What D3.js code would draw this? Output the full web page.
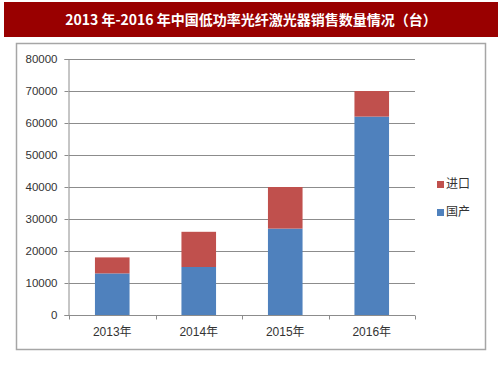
<!DOCTYPE html>
<html>
<head>
<meta charset="utf-8">
<script src="https://cdn.jsdelivr.net/npm/d3@7"></script>
<style>
  body { margin: 0; background: #fff; }
  svg { display: block; }
</style>
</head>
<body>
<div id="vis"></div>
<script>
// data
var years = ["2013年", "2014年", "2015年", "2016年"];
var domestic = [13000, 15000, 27000, 62000];   // 国产
var imported = [5000, 11000, 13000, 8000];     // 进口
var yTicks = [0, 10000, 20000, 30000, 40000, 50000, 60000, 70000, 80000];
var seriesNames = ["国产", "进口"];
var seriesColors = ["#4f81bd", "#c0504d"];

var W = 503, H = 378;
var svg = d3.select("#vis").append("svg")
    .attr("width", W)
    .attr("height", H);

// title banner
svg.append("rect")
    .attr("x", 4).attr("y", 2)
    .attr("width", 494).attr("height", 35)
    .attr("fill", "#990000");
svg.append("text")
    .attr("x", 251).attr("y", 20)
    .attr("dy", "0.35em")
    .attr("text-anchor", "middle")
    .attr("fill", "#fff")
    .style("font-family", "'Noto Sans CJK SC', 'DejaVu Serif', serif")
    .style("font-weight", "bold")
    .style("font-size", "14px")
    .text("2013 年-2016 年中国低功率光纤激光器销售数量情况（台）");

// chart frame
svg.append("rect")
    .attr("x", 16.5).attr("y", 43.5)
    .attr("width", 469).attr("height", 306)
    .attr("fill", "#fff")
    .attr("stroke", "#a6a6a6")
    .attr("stroke-width", 1.5);

var x = d3.scaleBand().domain(years).range([69, 415]).paddingInner(0.6).paddingOuter(0.3);
var y = d3.scaleLinear().domain([0, 80000]).range([315, 59]);

var fontStack = "'Liberation Sans', Arial, 'Noto Sans CJK SC', sans-serif";

// gridlines
svg.append("g")
  .selectAll("line")
  .data(yTicks.slice(1))
  .join("line")
    .attr("x1", 69).attr("x2", 415)
    .attr("y1", function(d) { return Math.round(y(d)) + 0.5; })
    .attr("y2", function(d) { return Math.round(y(d)) + 0.5; })
    .attr("stroke", "#8c8c8c")
    .attr("stroke-width", 1);

// stacked bars
var rows = years.map(function(yr, i) { return {year: yr, "国产": domestic[i], "进口": imported[i]}; });
var stack = d3.stack().keys(seriesNames)(rows);

svg.append("g")
  .selectAll("g")
  .data(stack)
  .join("g")
    .attr("fill", function(d, i) { return seriesColors[i]; })
  .selectAll("rect")
  .data(function(d) { return d; })
  .join("rect")
    .attr("x", function(d) { return x(d.data.year); })
    .attr("y", function(d) { return y(d[1]); })
    .attr("width", x.bandwidth())
    .attr("height", function(d) { return y(d[0]) - y(d[1]); });

// Y axis
var yAxis = svg.append("g")
    .attr("transform", "translate(68.5,0)")
    .call(d3.axisLeft(y).tickValues(yTicks).tickSize(4).tickPadding(7).tickFormat(d3.format("d")));
yAxis.select(".domain").attr("stroke", "#8c8c8c");
yAxis.selectAll(".tick line").attr("stroke", "#8c8c8c");
yAxis.selectAll("text")
    .attr("fill", "#333")
    .style("font-family", fontStack)
    .style("font-size", "11.5px");

// X axis
var xAxis = svg.append("g")
    .attr("transform", "translate(0,315.5)")
    .call(d3.axisBottom(x).tickSize(0).tickPadding(12));
xAxis.select(".domain").attr("d", "M69,0H415").attr("stroke", "#8c8c8c");
xAxis.selectAll("text")
    .attr("fill", "#333")
    .style("font-family", fontStack)
    .style("font-size", "12px");
// category boundary ticks
var bounds = d3.range(years.length + 1).map(function(i) { return 69 + i * x.step(); });
xAxis.selectAll(".bound")
  .data(bounds)
  .join("line")
    .attr("class", "bound")
    .attr("x1", function(d) { return Math.round(d) + 0.5; })
    .attr("x2", function(d) { return Math.round(d) + 0.5; })
    .attr("y1", 0).attr("y2", 4)
    .attr("stroke", "#8c8c8c");

// legend
var legendItems = [{name: "进口", color: seriesColors[1]}, {name: "国产", color: seriesColors[0]}];
var legend = svg.append("g")
  .selectAll("g")
  .data(legendItems)
  .join("g")
    .attr("transform", function(d, i) { return "translate(437," + (181 + i * 28) + ")"; });
legend.append("rect")
    .attr("width", 7).attr("height", 7)
    .attr("fill", function(d) { return d.color; });
legend.append("text")
    .attr("x", 9).attr("y", 3)
    .attr("dy", "0.35em")
    .attr("fill", "#333")
    .style("font-family", "'Noto Sans CJK SC', sans-serif")
    .style("font-size", "12px")
    .text(function(d) { return d.name; });
</script>
</body>
</html>
